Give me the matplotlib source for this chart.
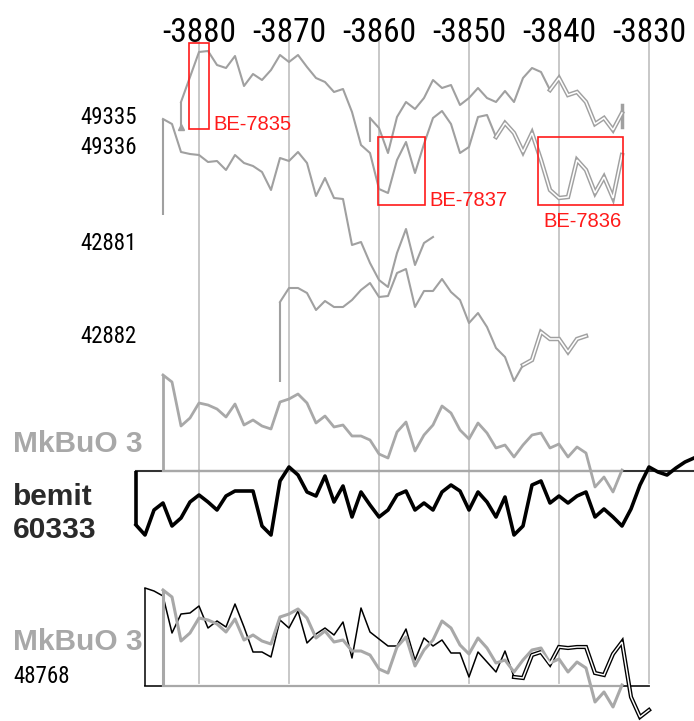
import numpy as np
import matplotlib
matplotlib.use("Agg")
import matplotlib.pyplot as plt
from matplotlib.patches import Rectangle
from matplotlib import font_manager as fm

plt.rcParams['font.family'] = ['Liberation Sans', 'DejaVu Sans']


def narrow_font():
    # look for a really narrow face (Arial Narrow look); None if there is none
    for fam, st, key in [('Liberation Sans Narrow', 'normal', 'narrow'),
                         ('Arial Narrow', 'normal', 'narrow'),
                         ('Noto Sans', 'extra-condensed', 'extracondensed'),
                         ('Noto Sans', 'condensed', 'condensed'),
                         ('Roboto Condensed', 'normal', 'condensed')]:
        try:
            path = fm.findfont(fm.FontProperties(family=fam, stretch=st), fallback_to_default=False)
        except ValueError:
            continue
        low = path.lower().replace('-', '').replace('_', '')
        if key in low and 'dejavu' not in low:
            return fm.FontProperties(fname=path)
    return None


NARROW_FP = narrow_font()

# --- data: ring curves, values = height above each curve's reference line ---
decades = [-3880, -3870, -3860, -3850, -3840, -3830]

# long top curve (BE samples marked on it)
top_b_start = -3882
top_b = [26, 51, 76, 77, 63, 60, 72, 42, 54, 48, 58, 73, 66, 73, 61, 50, 46, 36, 39, 16,
         -17, -25, -61, -65, -32, -14, -45, -16, 10, 17, 4, -25, -19, 11, 13, -9, 5, -5, -24, -5,
         -32, -62, -70, -69, -32, -42, -65, -49, -70, -27]
top_b_double = -3847

# curve starting left of it and running down to ~-3854
top_a_start = -3884
top_a = [96, 91, 63, 61, 60, 53, 54, 45, 60, 52, 49, 43, 25, 57, 54, 63, 52, 19, 37, 17,
         16, -30, -27, -48, -65, -72, -38, -14, -50, -28, -22]

# short curve top right
top_c_start = -3861
top_c = [24, 14, -11, 25, 40, 33, 44, 62, 54, 57, 37, 44, 54, 44, 40, 51, 40, 64, 74, 70,
         52, 64, 47, 50, 40, 18, 24, 12, 29]
top_c_double = -3841

# 42882
s42882_start = -3871
s42882 = [80, 94, 94, 89, 72, 81, 75, 75, 82, 92, 99, 85, 86, 109, 113, 75, 91, 91, 103, 90,
          82, 59, 69, 55, 34, 25, 1, 17, 22, 50, 43, 43, 30, 43, 46]
s42882_double = -3844

# MkBuO 3 (drawn twice)
mkbuo_start = -3884
mkbuo = [96, 89, 45, 53, 68, 66, 62, 54, 67, 46, 51, 45, 42, 69, 72, 77, 68, 48, 55, 44,
         46, 35, 35, 31, 17, 13, 39, 49, 20, 36, 46, 65, 58, 41, 32, 48, 38, 23, 26, 14,
         26, 36, 38, 23, 27, 14, 24, 18, -16, -6, -21, 1]

# bemit 60333
bemit_start = -3887
bemit = [-54, -64, -39, -32, -55, -47, -31, -24, -31, -39, -25, -20, -20, -20, -55, -64, -10, 4, -4, -21,
         -25, -5, -31, -15, -46, -21, -34, -46, -39, -24, -20, -39, -32, -39, -21, -14, -20, -39, -21, -31,
         -46, -26, -64, -55, -14, -10, -32, -25, -32, -25, -21, -46, -38, -46, -55, -38, -14, 4, -1, -4,
         3, 9, 13]

# 48768
s48768_start = -3886
s48768 = [98, 95, 90, 53, 72, 73, 80, 58, 65, 59, 82, 59, 34, 34, 29, 66, 58, 75, 43, 52,
          58, 51, 64, 28, 78, 54, 47, 40, 40, 57, 26, 48, 40, 46, 33, 33, 9, 34, 24, 14,
          35, 9, 8, 31, 34, 22, 39, 38, 39, 39, 13, 11, 32, 44, -11, -31, -24]
s48768_double = -3845

# BE sample boxes: (label, first year, last year)
be_boxes = [("BE-7835", -3881, -3879), ("BE-7837", -3860, -3855), ("BE-7836", -3842, -3833)]

GRAY = '#a0a0a0'
MKGRAY = '#a8a8a8'


def yrs(start, vals):
    return np.arange(start, start + len(vals))


def curve(ax, start, vals, ref, color, lw, double_from=None, dlw=None, tick=True):
    x = yrs(start, vals)
    y = ref - np.array(vals, dtype=float)
    if tick:
        ax.plot([x[0], x[0]], [ref, y[0]], color=color, lw=lw, solid_capstyle='butt', zorder=3)
    if double_from is None:
        ax.plot(x, y, color=color, lw=lw, zorder=3)
        return x, y
    k = int(double_from - start)
    ax.plot(x[:k + 1], y[:k + 1], color=color, lw=lw, zorder=3)
    ax.plot(x[k:], y[k:], color=color, lw=dlw, zorder=3, solid_joinstyle='miter')
    ax.plot(x[k:], y[k:], color='white', lw=dlw * 0.35, zorder=4, solid_joinstyle='miter')
    return x, y


def narrow_text(ax, x, y, s, size, plain_size, **kw):
    if NARROW_FP is not None:
        fp = NARROW_FP.copy()
        fp.set_size(size)
        return ax.text(x, y, s, fontproperties=fp, **kw)
    return ax.text(x, y, s, fontsize=plain_size, **kw)


fig = plt.figure(figsize=(6.94, 7.21), dpi=100)
ax = fig.add_axes([0, 0, 1, 1])
px = 9.0  # pixels per year
ax.set_xlim(-3880 - 199 / px, -3880 + 495 / px)
ax.set_ylim(721, 0)
ax.axis('off')

# decade lines and labels
for d in decades:
    ax.plot([d, d], [42, 683], color='#c4c4c4', lw=1.3, zorder=1)
    narrow_text(ax, d, 42, str(d), 24, 20, ha='center', va='baseline')

# top group
curve(ax, top_a_start, top_a, 215, GRAY, 1.5)
curve(ax, top_b_start, top_b, 128, GRAY, 1.5, top_b_double, 3.2)
ax.plot([top_b_start], [127], marker='^', ms=4, color=GRAY, zorder=3)
xc, yc = curve(ax, top_c_start, top_c, 142, GRAY, 1.5, top_c_double, 3.2)
ax.plot([xc[-1], xc[-1]], [yc[-1] - 8, yc[-1] + 14], color=GRAY, lw=2.5, zorder=3)
curve(ax, s42882_start, s42882, 382, GRAY, 1.5, s42882_double, 3.2)

# sample boxes on the top curve
box_rows = {"BE-7835": (43, 129), "BE-7837": (137, 205), "BE-7836": (137, 205)}
for name, y0, y1 in be_boxes:
    top, bot = box_rows[name]
    x0 = y0 - 0.1 if name != "BE-7836" else y0 - 0.3
    x1 = y1 + 0.1
    ax.add_patch(Rectangle((x0, top), x1 - x0, bot - top, fill=False,
                           edgecolor='#ff1a1a', lw=1.2, zorder=5))
    if name == "BE-7836":
        ax.text(x0 + 0.6, 227, name, color='#ff1a1a', fontsize=14.5, va='baseline', zorder=5)
    else:
        ax.text(x1 + 0.5, bot + 1, name, color='#ff1a1a', fontsize=14.5, va='baseline', zorder=5)

# left labels of top group
for txt, yb in [("49335", 124), ("49336", 154), ("42881", 250), ("42882", 343)]:
    narrow_text(ax, -3880 - 119 / px, yb, txt, 16.5, 14.5, va='baseline')

# middle: MkBuO 3 against bemit 60333
xb = yrs(bemit_start, bemit)
ax.plot([xb[0], xb[-1]], [471, 471], color='#333333', lw=1.5, zorder=2)
curve(ax, bemit_start, bemit, 471, 'black', 2.6)
xm = yrs(mkbuo_start, mkbuo)
ax.plot([xm[0], xm[-1]], [471, 471], color=MKGRAY, lw=1.6, zorder=2.5)
curve(ax, mkbuo_start, mkbuo, 471, MKGRAY, 2.0)

ax.text(-3880 - 186 / px, 452, "MkBuO 3", fontsize=21.5, fontweight='bold', color=MKGRAY, va='baseline')
ax.text(-3880 - 186 / px, 505, "bemit", fontsize=21.5, fontweight='bold', color='#2a2a2a', va='baseline')
ax.text(-3880 - 186 / px, 538, "60333", fontsize=21.5, fontweight='bold', color='#2a2a2a', va='baseline')

# bottom: MkBuO 3 against 48768
x8 = yrs(s48768_start, s48768)
ax.plot([x8[0], x8[-1]], [686, 686], color='#222222', lw=1.3, zorder=2)
curve(ax, s48768_start, s48768, 686, 'black', 1.1, s48768_double, 3.0)
ax.plot([xm[0], xm[-1]], [686, 686], color=MKGRAY, lw=1.6, zorder=2.5)
curve(ax, mkbuo_start, mkbuo, 686, MKGRAY, 2.2)

ax.text(-3880 - 186 / px, 650, "MkBuO 3", fontsize=21.5, fontweight='bold', color=MKGRAY, va='baseline')
narrow_text(ax, -3880 - 186 / px, 683, "48768", 16.5, 14.5, va='baseline')

fig.savefig("out.png", dpi=100)
